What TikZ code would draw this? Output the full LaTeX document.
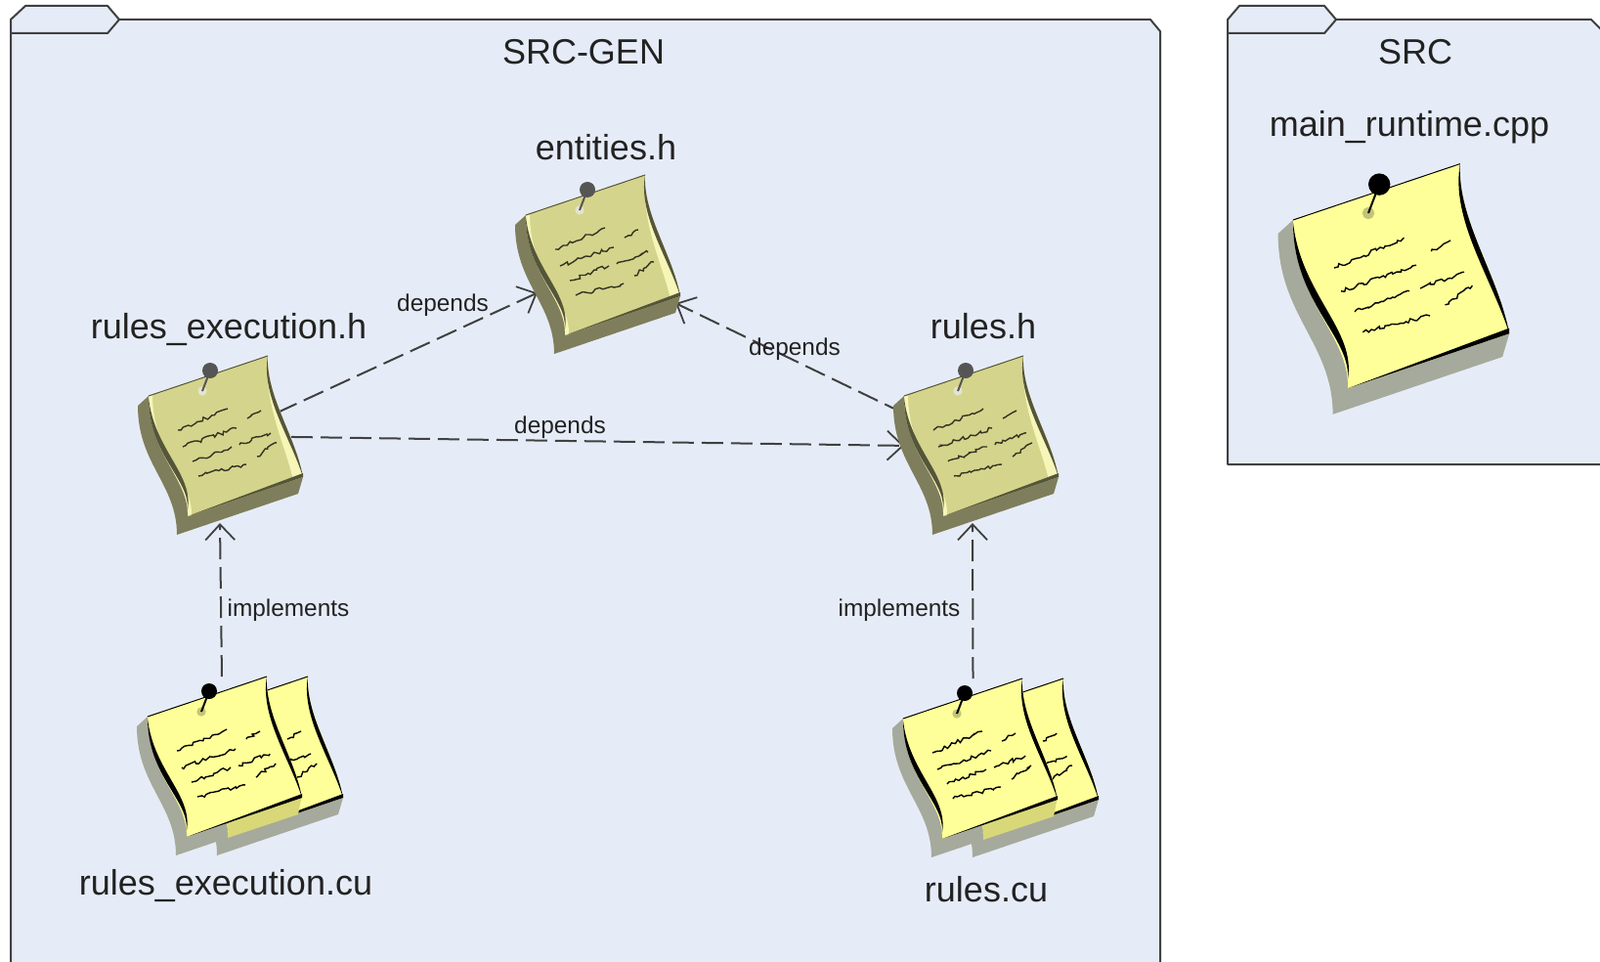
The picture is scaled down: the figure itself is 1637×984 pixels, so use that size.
\documentclass[tikz,border=0pt]{standalone}
\usepackage{fontspec}
\setmainfont{Liberation Sans}
\usetikzlibrary{arrows.meta,decorations.pathmorphing}

\definecolor{folderfill}{HTML}{E6ECF7}
\definecolor{folderline}{HTML}{404040}
\definecolor{textcol}{HTML}{222222}
\definecolor{sheetstrip}{HTML}{D8D878}

\tikzset{
  folderbox/.style={draw=folderline,fill=folderfill,line width=1pt,line join=round},
  notebox/.style={minimum width=73pt,minimum height=85.5pt,inner sep=0pt,outer sep=0pt},
  namelabel/.style={font=\fontsize{18}{20}\selectfont,text=textcol,inner sep=0pt},
  linklabel/.style={font=\fontsize{12.2}{14}\selectfont,text=textcol,inner sep=0pt},
  depline/.style={draw=folderline,line width=1pt,dash pattern=on 11pt off 4pt,
    -{Straight Barb[length=8pt,width=15pt,line width=.9pt]}},
  scribble/.style={draw=noteink,line width=.7pt,decorate,
    decoration={random steps,segment length=1.6pt,amplitude=1pt}},
  plainnote/.code={
    \definecolor{notepaper}{HTML}{FFFF99}\definecolor{notestrip}{HTML}{FFFF99}
    \definecolor{noteshadow}{HTML}{A6AA9C}\definecolor{noteedge}{HTML}{000000}
    \definecolor{notepin}{HTML}{000000}\definecolor{notehole}{HTML}{C4C478}\definecolor{noteink}{HTML}{000000}},
  fadednote/.code={
    \definecolor{notepaper}{HTML}{D4D48C}\definecolor{notestrip}{HTML}{F6F6B8}
    \definecolor{noteshadow}{HTML}{7E7E5C}\definecolor{noteedge}{HTML}{55553A}
    \definecolor{notepin}{HTML}{555555}\definecolor{notehole}{HTML}{E4E4D0}\definecolor{noteink}{HTML}{333322}},
}

% shadow alone: position, scale, style
\newcommand{\noteshadowonly}[3]{
  \begin{scope}[shift={#1},scale=#2,#3]
    \fill[noteshadow] (-11,10) .. controls (-11,70) and (29,90) .. (29,142)
      -- (153,100) -- (158,83) -- (0,0) -- cycle;
  \end{scope}
}
% paper with edges and writing: position, scale, style
\newcommand{\notesheet}[3]{
  \begin{scope}[shift={#1},scale=#2,#3]
    \fill[notepaper] (0,0) -- (122,-41) .. controls (120,0) and (150,40) .. (158,83)
      -- (40,123) .. controls (42,85) and (0,60) .. (0,0) -- cycle;
    \fill[notestrip] (122,-41) .. controls (120,0) and (150,40) .. (158,83)
      -- (148,86) .. controls (140,50) and (118,10) .. (122,-41) -- cycle;
    \fill[notestrip] (0,0) -- (4,-1) .. controls (4,60) and (45,85) .. (44,122)
      -- (40,123) .. controls (42,85) and (0,60) .. (0,0) -- cycle;
    % edges
    \fill[noteedge] (40,116) .. controls (42,85) and (0,60) .. (0,2)
      .. controls (6,55) and (46,80) .. (40,116) -- cycle;
    \fill[noteedge] (122,-41) .. controls (120,0) and (150,40) .. (158,83)
      .. controls (145,42) and (115,0) .. (122,-41) -- cycle;
    \draw[noteedge,line width=.5pt] (0,0) -- (122,-41);
    \fill[noteedge] (158,83) -- (158,79) -- (40,123) -- cycle;
    % writing
    \foreach \xa/\ya/\xb/\yb in {30/35/81/13,35/52/90/33,101/23/115/15,45/67/85/52,
      93/50/125/38,51/82/100/70,111/62/131/48} {
      \draw[scribble] (\xa,\ya) -- (\xb,\yb);
    }
    % pin
    \draw[notehole,line width=.6pt,fill=notehole] (55,-5) circle (4);
    \draw[notepin,line width=1pt] (63,-26) -- (55,-5);
    \fill[notepin] (63,-26) circle (8);
  \end{scope}
}

\begin{document}
\begin{tikzpicture}[x=.5pt,y=-.5pt]
\useasboundingbox (0,0) rectangle (1637,984);

% Folders
\draw[folderbox] (11,20) -- (26,6) -- (110,6) -- (122,20) -- (1177,20) -- (1187,32)
  -- (1187,995) -- (11,995) -- cycle;
\draw[folderbox] (11,34) -- (110,34) -- (122,20);
\draw[folderbox] (1256,20) -- (1268,6) -- (1355,6) -- (1367,20) -- (1628,20) -- (1640,32)
  -- (1650,475) -- (1256,475) -- cycle;
\draw[folderbox] (1256,34) -- (1355,34) -- (1367,20);
\node[namelabel] (srcgen) at (597,53) {SRC-GEN};
\node[namelabel] (src) at (1448,53) {SRC};

% Note positions
\node[notebox] (entitiesh) at (611,264.5) {};
\node[notebox] (rulesexech) at (225,449.5) {};
\node[notebox] (rulesh) at (998,449.5) {};
\node[notebox] (rulesexecu) at (224,777.5) {};
\node[notebox] (rulescu) at (997,779.5) {};

% Dependencies
\draw[depline,shorten <=-8pt,shorten >=-6.5pt] (rulesexech.25) -- (entitiesh.209)
  node[linklabel] at (453,312) {depends};
\draw[depline,shorten >=4pt] (rulesh.160) -- (entitiesh.330)
  node[linklabel] at (813,357) {depends};
\draw[depline] (rulesexech.2) -- (rulesh.185)
  node[linklabel] at (573,437) {depends};
\draw[depline] (rulesexecu.88) -- (rulesexech.south)
  node[linklabel] at (295,624) {implements};
\draw[depline] (rulescu.91) -- (rulesh.268)
  node[linklabel] at (920,624) {implements};

% Header notes
\noteshadowonly{(538,220)}{1}{fadednote}
\notesheet{(538,220)}{1}{fadednote}
\noteshadowonly{(152,405)}{1}{fadednote}
\notesheet{(152,405)}{1}{fadednote}
\noteshadowonly{(925,405)}{1}{fadednote}
\notesheet{(925,405)}{1}{fadednote}

% Source notes, two sheets each
\foreach \nx/\ny in {151/733,924/735} {
  \noteshadowonly{(\nx,\ny)}{1}{plainnote}
  \noteshadowonly{(\nx+42,\ny)}{1}{plainnote}
  \notesheet{(\nx+42,\ny)}{1}{plainnote}
  \fill[sheetstrip,shift={(\nx,\ny)}] (82,100) -- (158,80) -- (154,100) -- (82,124) -- cycle;
  \notesheet{(\nx,\ny)}{1}{plainnote}
}

% Runtime note
\noteshadowonly{(1323,225)}{1.4}{plainnote}
\notesheet{(1323,225)}{1.4}{plainnote}

% Names
\node[namelabel] (entitiesname) at (620,151) {entities.h};
\node[namelabel] (rulesexechname) at (234,337) {rules\_execution.h};
\node[namelabel] (ruleshname) at (1006,334) {rules.h};
\node[namelabel] (rulesexecuname) at (231,906) {rules\_execution.cu};
\node[namelabel] (rulescuname) at (1009,910) {rules.cu};
\node[namelabel] (mainname) at (1442,130) {main\_runtime.cpp};
\end{tikzpicture}
\end{document}
